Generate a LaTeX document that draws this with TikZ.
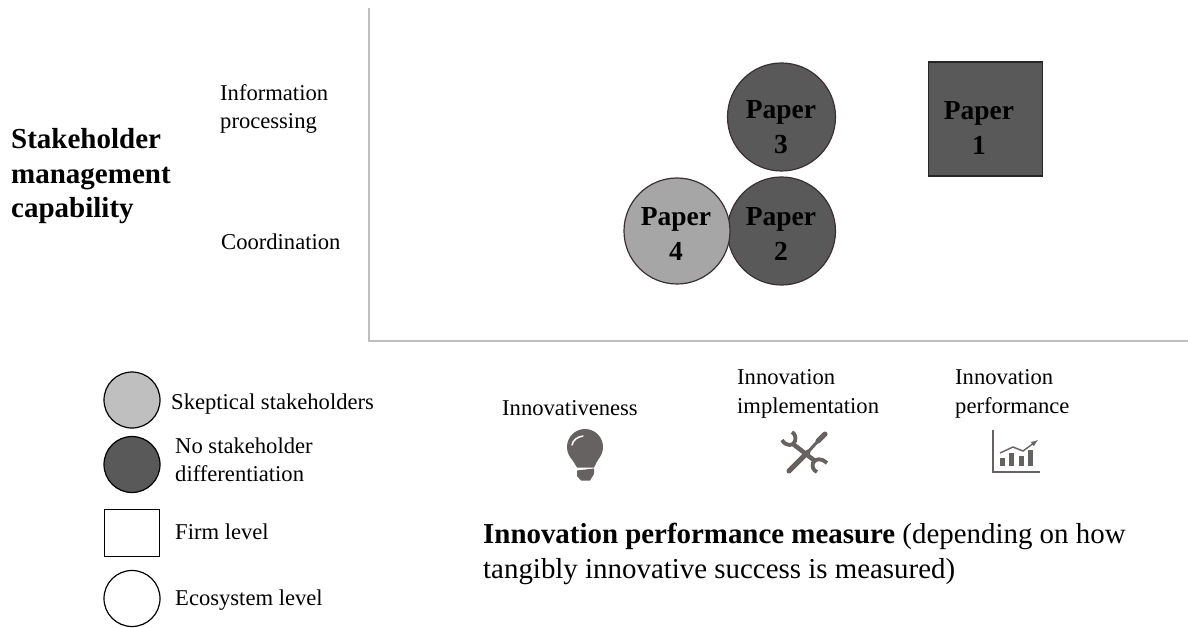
\documentclass[tikz,border=0pt]{standalone}
\usepackage{fontspec}
\setmainfont{Liberation Serif}
\usepackage{tikz}
\usetikzlibrary{positioning}
\definecolor{darkfill}{HTML}{595959}
\definecolor{lightfill}{HTML}{A6A6A6}
\definecolor{legendlight}{HTML}{BFBFBF}
\definecolor{iconcol}{HTML}{666262}
\definecolor{axiscol}{HTML}{BFBFBF}
\definecolor{ringcol}{HTML}{3A3030}
\tikzset{
  small/.style = {inner sep = 0, anchor = west, align = left, font = \fontsize{22.6}{28.5}\selectfont},
  big/.style = {inner sep = 0, anchor = west, align = left, font = \fontsize{28.9}{35}\selectfont},
  head/.style = {inner sep = 0, anchor = west, align = left, font = \bfseries\fontsize{29}{34.5}\selectfont},
  papertext/.style = {inner sep = 0, align = center, font = \bfseries\fontsize{27.5}{35}\selectfont},
  paperround/.style = {circle, draw = ringcol, line width = 1.2 pt, minimum size = 108 pt, inner sep = 0},
  legendround/.style = {circle, draw = black, line width = 1.2 pt, minimum size = 56 pt, inner sep = 0},
  icon/.style = {fill = iconcol, draw = none}
}
\begin{document}
\begin{tikzpicture} [x = 1pt, y = -1pt]
    \useasboundingbox (0,0) rectangle (1188,628);
    \coordinate (top) at (369,8);
    \coordinate (origin) at (369,341);
    \coordinate (right) at (1188,341);
    \draw [axiscol, line width = 1.2 pt] (top)--(origin)--(right);

    \node [head] (title) at (11,176.5) {Stakeholder\\management\\capability};
    \node [small] (info) at (220,109) {Information\\processing};
    \node [small] (coord) at (221,242) {Coordination};

    \node [paperround, fill = darkfill] (three) at (781.5,117) {};
    \node [paperround, fill = darkfill] (two) at (781.5,231) {};
    \node [paperround, fill = lightfill, minimum size = 106 pt] (four) at (677,231) {};
    \node [draw = black!85, fill = darkfill, line width = 1.2 pt, minimum size = 114 pt, inner sep = 0] (one) at (985.5,119) {};
    \node [papertext] (onetext) at (979,127.5) {Paper\\1};
    \node [papertext] (threetext) at (781,127.5) {Paper\\3};
    \node [papertext] (twotext) at (781,234) {Paper\\2};
    \node [papertext] (fourtext) at (676,234) {Paper\\4};

    \node [legendround, fill = legendlight] (sceptic) at (132,400) {};
    \node [legendround, fill = darkfill] (nodiff) at (132,464.5) {};
    \node [draw = black, line width = 1.2 pt, minimum width = 55 pt, minimum height = 47 pt, inner sep = 0] (firm) at (132,533) {};
    \node [legendround] (eco) at (132,598.5) {};
    \node [small] (scepticlabel) at (171,404) {Skeptical stakeholders};
    \node [small] (nodifflabel) at (175,460) {No stakeholder\\differentiation};
    \node [small] (firmlabel) at (175,532) {Firm level};
    \node [small] (ecolabel) at (175,600) {Ecosystem level};

    \node [small] (measureone) at (502,408) {Innovativeness};
    \node [small] (measuretwo) at (737,394) {Innovation\\implementation};
    \node [small] (measurethree) at (955,394) {Innovation\\performance};

    \fill [icon] (585,447) circle (18);
    \fill [icon] (570,456)--(600,456)--(594,467.5)--(577,467.5)--cycle;
    \fill [icon] (577,470.5)--(594,468.5)--(594,474)--(590,480.5)--(581,480.5)--(577,476)--cycle;
    \draw [white, line width = 1.5 pt, line cap = round] (572,445) .. controls (573,440) and (577,437) .. (583,436);

    \draw [iconcol, line width = 5 pt, line cap = round] (789,471)--(808,452);
    \draw [iconcol, line width = 3 pt] (808,452)--(818,441);
    \draw [iconcol, line width = 5 pt, line cap = round] (818,441)--(825,434);
    \draw [iconcol, line width = 4.5 pt] (793,444)--(815,461);
    \draw [iconcol, line width = 3.8 pt] (782,440) .. controls (786,447) and (794,446) .. (795,441) .. controls (796,437) and (795,434) .. (792,432);
    \draw [iconcol, line width = 3.8 pt] (827,463) .. controls (822,458) and (815,458) .. (813,463) .. controls (812,467) and (813,470) .. (817,472);

    \draw [iconcol, line width = 1.4 pt] (993,430)--(993,472)--(1040,472);
    \foreach \barx/\bartop in {1002/458, 1011/453, 1021/456, 1030/450} {
      \fill [icon] (\barx-2.5,\bartop) rectangle (\barx+2.5,466);
    }
    \draw [iconcol, line width = 1.4 pt, -latex] (1000,453)--(1013,447)--(1023,451)--(1038,440);

    \node [big] (measure) at (483,554) {\textbf{Innovation performance measure} (depending on how\\tangibly innovative success is measured)};
\end{tikzpicture}
\end{document}
